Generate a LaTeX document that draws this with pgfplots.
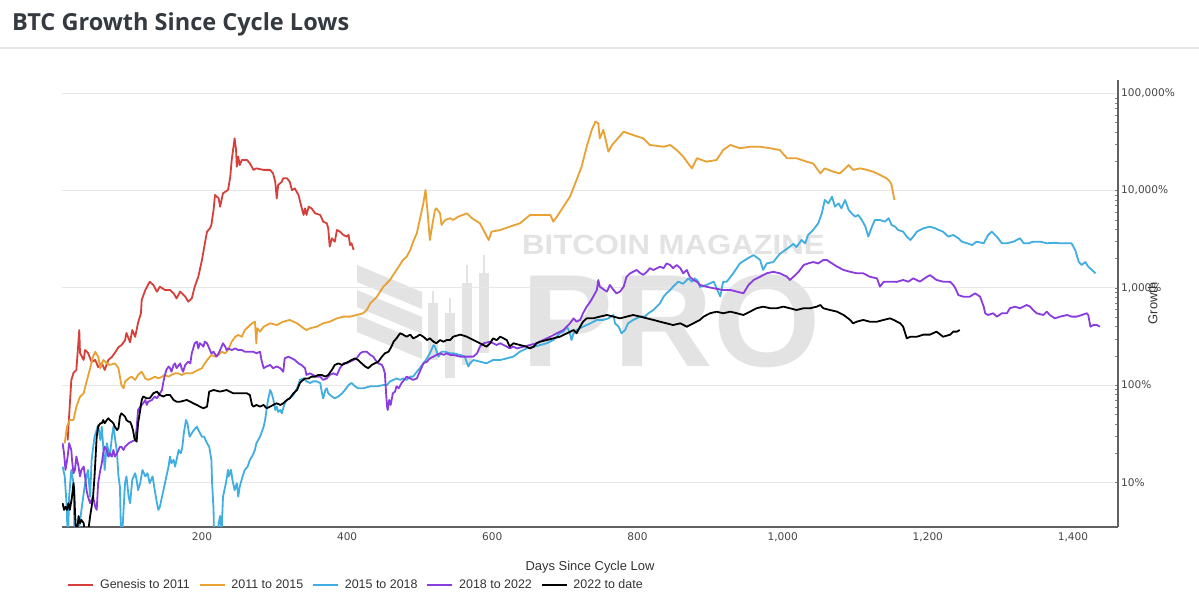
\documentclass[border=0pt]{standalone}
\usepackage{fontspec}
\usepackage{graphicx}
\usepackage{pgfplots}
\pgfplotsset{compat=1.18}
\setmainfont{Liberation Sans}
\newfontfamily\titlefont{Open Sans}
\newfontfamily\tickfont{DejaVu Sans}

\definecolor{cRed}{HTML}{D6403A}
\definecolor{cOrange}{HTML}{E8A132}
\definecolor{cBlue}{HTML}{40AEE0}
\definecolor{cPurple}{HTML}{8A3CDE}
\definecolor{titlegray}{HTML}{343A40}
\definecolor{textgray}{HTML}{333333}
\definecolor{wmark}{HTML}{E3E3E3}

\begin{document}
\begin{tikzpicture}[x=1bp,y=1bp]
\useasboundingbox (0,0) rectangle (1199,603);
\fill[white] (0,0) rectangle (1199,603);

% header
\node[anchor=base west, inner sep=0pt, text=titlegray,
      font=\titlefont\bfseries\fontsize{23.6}{27}\selectfont] at (12,572) {BTC Growth Since Cycle Lows};
\draw[black!9, line width=1.2bp] (0,555) -- (1199,555);

% watermark: logo stripes and candles, then the wordmark
\begin{scope}[fill=wmark, draw=none]
  \fill (357,338) -- (422,311) -- (422,294) -- (357,321) -- cycle;
  \fill (357,313) -- (422,286) -- (422,269) -- (357,296) -- cycle;
  \fill (357,288) -- (422,261) -- (422,244) -- (357,271) -- cycle;
  \fill (428,243) rectangle (438,300);
  \fill (432,300) rectangle (434,312);
  \fill (445,225) rectangle (455,290);
  \fill (449,290) rectangle (451,305);
  \fill (462,238) rectangle (472,320);
  \fill (466,320) rectangle (468,338);
  \fill (479,250) rectangle (489,330);
  \fill (483,330) rectangle (485,348);
\end{scope}
\node[anchor=base west, inner sep=0pt, text=wmark, xscale=1.115,
      font=\bfseries\fontsize{28}{30}\selectfont] at (522,348) {BITCOIN MAGAZINE};
\node[anchor=base west, inner sep=0pt, text=wmark, xscale=1.05,
      font=\bfseries\fontsize{132}{132}\selectfont] at (521,236) {PRO};

\begin{axis}[
  at={(62bp,76bp)}, anchor=south west,
  width=1056bp, height=447bp, scale only axis,
  xmin=7.2, xmax=1462,
  ymode=log, ymin=3.47, ymax=137000,
  axis x line*=bottom, axis y line*=right,
  axis line style={draw=black!62, line width=1.1bp},
  xtick={200,400,600,800,1000,1200,1400},
  xticklabels={200,400,600,800,{1,000},{1,200},{1,400}},
  ytick={10,100,1000,10000,100000},
  yticklabels={10\%,100\%,{1,000\%},{10,000\%},{100,000\%}},
  major tick length=0pt, minor tick num=0,
  ymajorgrids, grid style={draw=black!9, line width=1bp},
  tick label style={font=\tickfont\fontsize{10.6}{12}\selectfont, text=black!72},
  yticklabel style={anchor=west, inner sep=0pt, xshift=3bp},
  xticklabel style={anchor=north, inner sep=0pt, yshift=-5bp},
  xlabel={Days Since Cycle Low},
  ylabel={Growth},
  label style={font=\fontsize{13}{15}\selectfont, text=textgray},
  xlabel style={at={(axis description cs:0.5,0)}, anchor=center, yshift=-40bp},
  ylabel style={at={(axis description cs:1.03286,0.5)}, anchor=center},
  every axis plot/.append style={line width=1.8bp, line join=round, mark=none},
  legend columns=5,
  legend cell align=left,
  legend image code/.code={\draw[#1, line width=1.6bp] (0bp,0bp) -- (25bp,0bp);},
  legend style={at={(axis description cs:0.00502,-0.1298)}, anchor=west,
    draw=none, fill=none, inner sep=0pt,
    font=\fontsize{12.5}{14}\selectfont, text=textgray,
    nodes={inner sep=0pt},
    /tikz/every odd column/.append style={column sep=6bp},
    /tikz/every even column/.append style={column sep=9bp}},
]

% Genesis to 2011
\addplot[cRed] coordinates {
(15,27) (20,112) (23,133) (27,143) (31,367) (32,214) (37,181) (39,229) (43,214) (48,173)
(53,181) (57,153) (62,169) (66,143) (71,181) (76,195) (80,214) (85,245) (89,257) (94,288)
(96,343) (101,275) (104,368) (108,313) (112,437) (116,550) (117,750) (122,949) (128,1155)
(133,1070) (138,913) (142,1026) (149,949) (156,949) (161,877) (165,777) (170,913) (177,813)
(181,720) (186,777) (190,1026) (195,1300) (200,1930) (204,2870) (207,3780) (211,4090)
(213,4430) (216,6310) (218,9000) (223,8320) (225,6820) (229,9380) (236,10140) (239,13870)
(241,20600) (245,34400) (247,26100) (248,17600) (250,22300) (252,18300) (255,20600)
(262,20600) (266,19000) (271,16300) (275,16900) (285,16300) (294,16300) (298,15000)
(301,12300) (303,8300) (305,11400) (310,12300) (312,13400) (317,13400) (321,12300)
(324,10100) (328,10500) (333,9000) (337,6820) (340,5610) (342,6560) (344,5610) (347,6820)
(351,6560) (356,5830) (363,5610) (367,4790) (372,4600) (374,4090) (376,2650) (379,3230)
(383,2980) (386,3930) (390,3780) (395,3490) (399,3360) (402,3490) (404,2750) (406,2870)
(409,2450)
};
\addlegendentry{Genesis to 2011}

% 2011 to 2015
\addplot[cOrange] coordinates {
(11,25.2) (14,37.3) (18,43.7) (23,43.7) (27,59.9) (32,75.9) (37,82.2) (41,108) (46,149)
(50,196) (53,220) (57,196) (60,149) (64,181) (69,167) (73,161) (80,167) (85,149) (87,122)
(89,100) (92,92.6) (94,108) (99,117) (103,122) (108,113) (112,127) (117,137) (122,117)
(126,113) (131,117) (135,122) (140,117) (145,122) (149,127) (154,122) (158,127) (163,132)
(167,132) (172,127) (177,132) (181,132) (186,132) (190,137) (195,143) (200,149) (204,167)
(209,188) (213,204) (218,196) (223,204) (227,220) (232,212) (236,229) (241,279) (246,314)
(250,327) (255,314) (259,368) (264,398) (269,431) (273,448) (275,268) (276,384) (280,354)
(285,398) (294,431) (303,414) (312,448) (321,467) (331,431) (340,384) (344,368) (349,384)
(358,398) (367,431) (376,448) (386,485) (395,505) (404,505) (413,525) (422,547) (427,591)
(432,693) (441,810) (450,1026) (459,1203) (468,1524) (477,1930) (482,2090) (487,2450)
(491,2980) (496,3630) (500,4980) (505,7390) (508,10140) (511,5830) (514,3100) (517,4250)
(521,6310) (523,6560) (528,5830) (530,4430) (535,4980) (542,5190) (546,4980) (553,5380)
(565,5830) (572,5190) (583,4600) (595,3100) (599,3780) (611,3930) (624,4250) (638,4600)
(652,5610) (666,5610) (680,5610) (684,4790) (689,5380) (698,6820) (707,8650) (716,12800)
(723,17600) (730,28200) (737,42000) (742,51100) (746,49200) (748,34400) (753,42000)
(760,25100) (765,29400) (771,33100) (781,40300) (794,37200) (808,34400) (817,29400)
(836,28200) (845,29400) (854,26100) (863,22300) (875,16900) (882,21500) (895,19800)
(909,20600) (918,26100) (928,29400) (941,27200) (955,28200) (969,28200) (983,27200)
(996,26100) (1006,21500) (1019,21500) (1033,19800) (1042,19000) (1052,15000) (1058,16900)
(1070,15600) (1079,15000) (1091,18300) (1097,16300) (1107,16900) (1116,16300) (1125,15600)
(1134,14500) (1143,13400) (1148,12300) (1150,11400) (1154,8000)
};
\addlegendentry{2011 to 2015}

% 2015 to 2018
\addplot[cBlue] coordinates {
(8,14.5) (11,11.5) (14,5.2) (15,2) (17,7.1) (20,13.4) (23,9.8) (25,2) (30,3) (34,5.2)
(39,9.8) (43,13.4) (46,7.1) (48,17) (52,29.4) (55,34.5) (57,38.8) (60,27.2) (62,37.3)
(64,23.2) (66,13.4) (69,25.2) (71,21.5) (73,18.4) (76,29.4) (78,37.3) (80,29.4) (83,19.9)
(85,11.5) (87,9) (89,2) (92,5.2) (94,9.8) (96,11.5) (99,7.1) (101,6.1) (104,10.6)
(108,12.4) (110,10.6) (112,8.3) (115,9.8) (118,13.4) (122,11.5) (125,12.4) (128,9.8)
(132,11.5) (135,8.3) (138,6.1) (140,5.2) (142,5.6) (145,7.1) (147,8.3) (150,10.6)
(154,14.5) (156,18.4) (158,15.7) (161,17) (163,14.5) (166,18.4) (168,21.5) (171,19.9)
(173,23.2) (175,31.9) (178,43.7) (180,40.4) (183,29.4) (186,31.9) (189,34.5) (193,37.3)
(195,34.5) (200,29.4) (203,29.4) (207,25.2) (210,23.2) (213,17) (214,9.8) (216,5.2)
(217,2) (220,2) (223,3.8) (225,4.5) (227,3) (229,7.1) (233,9.8) (236,13.4) (237,11.5)
(240,13.4) (242,10.6) (245,8.3) (248,9.8) (250,7.1) (252,9) (256,11.5) (259,13.4)
(263,14.5) (266,17) (269,18.4) (273,21.5) (275,25.2) (280,29.4) (285,37.3) (287,43.7)
(289,55.4) (291,70.2) (294,88.9) (296,82.2) (298,73) (301,55.4) (303,60) (305,53)
(308,55.4) (310,51.2) (312,57.7) (314,64.9) (317,70.2) (321,73) (326,79) (331,92.6)
(335,113) (340,117) (344,109) (349,105) (353,109) (358,109) (363,105) (365,85.6) (367,73)
(370,88.9) (372,92.6) (374,82.2) (379,76.2) (383,73) (388,76.2) (393,82.2) (397,88.9)
(402,100) (406,105) (411,97) (415,92.6) (422,92.6) (432,97) (441,97) (450,100) (455,100)
(459,109) (464,113) (468,117) (473,113) (477,117) (482,113) (487,122) (491,122) (496,137)
(500,149) (505,167) (510,188) (514,212) (519,257) (521,248) (526,196) (530,220) (535,220)
(542,212) (546,212) (556,204) (562,196) (567,155) (569,167) (574,181) (583,174) (592,167)
(601,181) (611,181) (620,188) (629,196) (638,220) (647,238) (657,248) (666,258) (675,269)
(684,290) (693,341) (698,354) (703,398) (707,341) (709,290) (712,341) (716,368) (725,398)
(735,431) (744,467) (753,467) (760,485) (767,525) (769,431) (774,398) (778,341) (783,368)
(787,431) (794,467) (804,505) (810,505) (815,547) (822,591) (831,693) (836,810) (840,877)
(845,949) (849,1026) (856,1156) (863,1100) (870,1250) (875,1156) (879,1250) (884,1150)
(886,1020) (895,1070) (905,1156) (914,815) (918,1150) (923,1156) (932,1410) (941,1780)
(951,1990) (960,2170) (969,1930) (973,1524) (978,1780) (987,1840) (996,2230) (1006,2520)
(1015,2830) (1019,2620) (1026,3100) (1031,2860) (1035,3480) (1042,3930) (1049,4600)
(1054,5830) (1058,7990) (1063,7380) (1068,8650) (1072,6820) (1077,7380) (1081,6560)
(1086,7990) (1091,6310) (1095,5830) (1100,5380) (1104,5610) (1109,4980) (1114,4250)
(1118,3360) (1123,4250) (1127,4980) (1134,4980) (1141,4790) (1146,5190) (1150,4430)
(1155,4250) (1159,3930) (1166,3780) (1171,3360) (1176,3100) (1180,3360) (1185,3780)
(1194,4090) (1203,4250) (1210,4090) (1215,3930) (1221,3780) (1228,3360) (1235,3490)
(1242,3230) (1247,2980) (1254,2870) (1261,2750) (1267,2980) (1277,2870) (1283,3480)
(1288,3780) (1295,3360) (1302,2870) (1309,2870) (1318,2980) (1327,3230) (1332,2870)
(1339,2870) (1345,2980) (1355,2980) (1364,2870) (1373,2900) (1382,2870) (1394,2870)
(1398,2870) (1403,2447) (1408,1840) (1412,1716) (1417,1840) (1421,1650) (1426,1524)
(1431,1410)
};
\addlegendentry{2015 to 2018}

% 2018 to 2022
\addplot[cPurple] coordinates {
(8,25.2) (10,19.9) (12,13.4) (15,18.4) (17,25.2) (20,21.5) (21,17) (23,12.4) (25,13.4)
(27,18.4) (30,14.5) (32,11.5) (34,13.4) (37,14.5) (39,11.5) (41,8.3) (43,7.1) (46,6.1)
(48,6.6) (50,7.1) (53,5.6) (55,5.2) (57,9.8) (60,13.4) (62,15.7) (64,19.9) (66,23.2)
(69,21.5) (71,18.4) (73,19.9) (76,18.4) (78,21.5) (80,18.4) (83,19.9) (85,21.5) (87,23.2)
(89,23.2) (92,21.5) (94,23.2) (99,25.2) (103,26.2) (108,27.2) (110,36) (112,55.4) (115,60)
(117,62.4) (119,64.9) (122,70.2) (124,62.4) (126,67.4) (131,70.2) (135,76.2) (138,73)
(142,82.2) (145,88.9) (147,109) (149,127) (151,143) (154,155) (156,149) (158,137)
(161,161) (163,167) (165,149) (170,167) (172,149) (174,137) (177,161) (181,174) (184,167)
(186,212) (188,238) (190,269) (193,279) (195,238) (197,269) (200,258) (202,248) (204,279)
(207,269) (209,248) (211,229) (213,212) (216,220) (220,196) (223,212) (225,229) (227,248)
(229,269) (232,248) (234,229) (236,238) (241,229) (246,238) (250,229) (255,229) (259,220)
(266,220) (271,220) (275,212) (280,220) (282,181) (285,149) (289,155) (294,161) (298,149)
(303,155) (308,149) (312,137) (314,188) (319,196) (324,188) (328,181) (333,167) (337,161)
(342,149) (344,127) (349,132) (353,127) (358,122) (363,122) (367,113) (372,117) (376,127)
(381,132) (386,127) (390,149) (395,167) (399,167) (404,174) (409,181) (413,188) (418,212)
(422,220) (427,220) (432,204) (436,196) (439,181) (443,167) (448,161) (450,149) (452,132)
(454,76) (455,60) (456,55.4) (458,70.2) (460,62.4) (463,82.2) (466,85.6) (468,97)
(471,92.6) (475,105) (477,109) (482,122) (487,117) (491,113) (496,117) (500,137) (505,167)
(510,174) (514,188) (519,196) (523,204) (528,212) (533,204) (537,212) (542,204) (546,204)
(556,196) (565,196) (574,196) (579,212) (583,248) (588,269) (597,279) (606,258) (611,269)
(620,248) (624,238) (629,248) (634,238) (643,248) (652,258) (661,269) (670,290) (680,314)
(689,341) (698,368) (707,431) (712,485) (716,448) (721,467) (725,547) (730,640) (735,720)
(739,810) (744,949) (746,1203) (748,1026) (758,913) (760,988) (762,1070) (767,949)
(771,877) (776,913) (781,1026) (785,1300) (790,1410) (794,1460) (799,1524) (804,1410)
(808,1360) (813,1460) (817,1590) (822,1524) (827,1590) (831,1650) (836,1590) (840,1780)
(845,1716) (849,1590) (854,1716) (859,1590) (863,1410) (868,1524) (872,1300) (877,1203)
(882,1150) (886,1070) (895,1026) (905,988) (918,949) (928,949) (937,913) (946,877)
(953,1070) (960,1203) (969,1300) (978,1410) (987,1460) (996,1410) (1006,1300) (1010,1203)
(1015,1300) (1022,1460) (1029,1716) (1035,1780) (1042,1840) (1049,1780) (1056,1930)
(1061,1930) (1065,1840) (1075,1650) (1084,1524) (1093,1460) (1102,1410) (1111,1410)
(1120,1300) (1130,1250) (1134,1026) (1139,1150) (1148,1156) (1157,1150) (1166,1203)
(1173,1156) (1180,1250) (1189,1156) (1199,1300) (1203,1350) (1212,1203) (1221,1156)
(1231,1150) (1235,1070) (1238,988) (1242,843) (1249,810) (1258,810) (1265,877) (1272,810)
(1277,640) (1279,547) (1283,525) (1290,547) (1295,505) (1302,547) (1309,547) (1313,616)
(1320,640) (1327,616) (1336,665) (1341,640) (1345,591) (1350,547) (1359,525) (1364,568)
(1368,525) (1375,485) (1382,505) (1392,525) (1398,505) (1405,505) (1412,525) (1419,547)
(1421,525) (1424,398) (1428,414) (1433,414) (1437,398)
};
\addlegendentry{2018 to 2022}

% 2022 to date
\addplot[black] coordinates {
(8,6.1) (10,5.2) (12,5.6) (14,5.2) (16,6.1) (18,5.2) (21,7.1) (23,9.8) (24,8.3) (25,5.2)
(27,2.5) (30,4.5) (32,3.8) (34,4.1) (37,3.8) (39,3) (43,3) (46,4.5) (48,5.6) (50,7.1)
(52,11.5) (54,21.5) (55,29.4) (57,37.3) (60,40.4) (62,40.4) (64,43.7) (66,40.4) (69,43.7)
(71,45.5) (73,43.7) (76,41.9) (78,40.4) (80,37.3) (83,34.5) (85,36) (87,47.4) (89,51.2)
(92,49) (94,47.4) (96,43.7) (99,41.9) (101,41.9) (103,38.8) (105,34.5) (107,28.4)
(108,27.2) (110,26.2) (112,40.4) (115,55.4) (117,70.2) (119,76.2) (124,73) (128,73)
(133,82.2) (138,85.6) (142,79) (147,76.2) (151,79) (156,79) (161,70.2) (165,67.4)
(170,67.4) (179,70.2) (184,67.4) (188,64.9) (193,62.4) (197,60) (202,57.7) (207,60)
(210,85.6) (216,88.9) (225,85.6) (234,88.9) (243,82.2) (252,82.2) (262,82.2) (266,79)
(269,62.4) (271,60) (275,62.4) (280,60) (285,62.4) (289,57.7) (294,60) (298,62.4)
(303,64.9) (308,62.4) (312,64.9) (317,70.2) (321,73) (326,82.2) (331,88.9) (335,105)
(337,109) (342,117) (347,117) (351,122) (356,122) (360,127) (365,127) (370,122) (374,127)
(379,143) (383,161) (388,167) (393,161) (397,167) (402,174) (406,181) (411,188) (415,181)
(420,167) (425,155) (429,149) (434,161) (438,167) (443,174) (448,196) (452,212) (457,220)
(461,248) (464,279) (468,302) (473,341) (477,330) (482,314) (487,330) (491,302) (496,314)
(500,330) (505,314) (510,290) (514,302) (519,279) (523,269) (528,290) (533,279) (537,290)
(542,290) (546,314) (556,330) (565,314) (574,290) (583,269) (592,248) (597,269) (601,302)
(606,290) (611,314) (620,290) (624,248) (629,269) (638,258) (647,248) (652,238) (657,248)
(661,269) (666,279) (675,290) (684,302) (693,314) (703,341) (712,368) (716,341) (721,398)
(725,448) (730,485) (739,485) (748,505) (758,525) (767,505) (776,485) (785,505) (794,525)
(804,505) (813,485) (822,467) (831,448) (840,431) (849,414) (859,431) (868,398) (877,431)
(886,467) (891,505) (900,547) (909,568) (918,547) (928,568) (937,547) (946,525) (955,568)
(964,616) (973,640) (983,616) (992,616) (1001,640) (1010,616) (1019,591) (1029,616)
(1038,616) (1047,640) (1052,665) (1056,616) (1065,591) (1075,568) (1084,525) (1093,467)
(1097,431) (1102,448) (1111,467) (1120,448) (1130,448) (1139,467) (1148,485) (1153,467)
(1162,431) (1166,398) (1171,302) (1176,314) (1185,314) (1194,330) (1203,330) (1212,354)
(1221,314) (1231,330) (1235,354) (1240,354) (1244,368)
};
\addlegendentry{2022 to date}

\end{axis}
\end{tikzpicture}
\end{document}
